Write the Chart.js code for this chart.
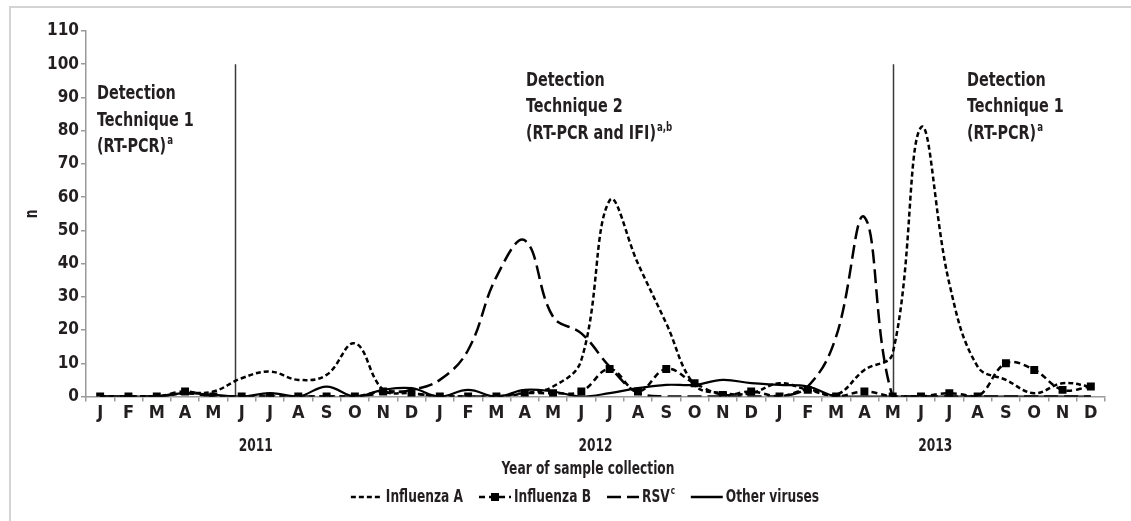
<!DOCTYPE html>
<html>
<head>
<meta charset="utf-8">
<script src="https://cdn.jsdelivr.net/npm/chart.js@4/dist/chart.umd.min.js"></script>
<style>
  html, body { margin: 0; padding: 0; background: #fff; }
  #wrap { position: relative; width: 1131px; height: 521px; }
</style>
</head>
<body>
<div id="wrap"><canvas id="c" width="1131" height="521"></canvas></div>
<script>
const FONT = '"DejaVu Sans Condensed", "Liberation Sans Narrow", sans-serif';
const TEXT = '#231f20';
const SX = 0.8; // horizontal compression for custom text

const months = ['J','F','M','A','M','J','J','A','S','O','N','D',
                'J','F','M','A','M','J','J','A','S','O','N','D',
                'J','F','M','A','M','J','J','A','S','O','N','D'];
const years = ['2011', '2012', '2013'];

const influenzaA = [0,0,0,1,1.5,5.5,7.5,5,6.5,16,2,1,
                    0,0,0,1,3,11,59,40,22,3.5,1,1,
                    4,2,0.5,8,13,81,34,9,5,1,4,3];
const influenzaB = [0,0,0,1.5,0,0,0,0,0,0,1.5,1,
                    0,0,0,1,1,1.5,8.3,1.5,8.3,4,0.5,1.5,
                    0,2,0,1.5,0,0,1,0,10,8,2,3];
const rsv        = [0,0,0,1,0,0,0,0,0,0,1,2,
                    5,14,36,47,24,19,9,1,0,0,0,0,
                    0,3,18,54,0,0,0,0,0,0,0,0];
const otherViruses = [0,0,0,1,0.5,0,1,0,3,0,2,2.5,
                      0,2,0,2,1.5,0,1,2.5,3.5,3.5,5,4,
                      3.5,3,0,0,0,0,0,0,0,0,0,0];

// positions (in month index units) of the technique change lines
const techniqueBreaks = [4.78, 28];
const breakTop = 100;

const labelsTech = [
  { x: 97,  lines: [[['Detection', false]], [['Technique 1', false]], [['(RT-PCR)', false], ['a', true]]], base: [99, 126, 152] },
  { x: 526, lines: [[['Detection', false]], [['Technique 2', false]], [['(RT-PCR and IFI)', false], ['a,b', true]]], base: [86, 112, 139] },
  { x: 967, lines: [[['Detection', false]], [['Technique 1', false]], [['(RT-PCR)', false], ['a', true]]], base: [86, 112, 139] }
];

function richWidth(ctx, parts, size) {
  let w = 0;
  parts.forEach(([t, sup]) => {
    ctx.font = 'bold ' + (sup ? Math.round(size * 0.6) : size) + 'px ' + FONT;
    w += (ctx.measureText(t).width + (sup ? 1 : 0)) * SX;
  });
  return w;
}

function drawRich(ctx, parts, x, y, size) {
  let cx = x;
  parts.forEach(([t, sup]) => {
    ctx.font = 'bold ' + (sup ? Math.round(size * 0.6) : size) + 'px ' + FONT;
    const yy = sup ? y - size * 0.38 : y;
    const xx = sup ? cx + 1 : cx;
    ctx.save();
    ctx.translate(xx, yy);
    ctx.scale(SX, 1);
    ctx.textAlign = 'left';
    ctx.fillText(t, 0, 0);
    ctx.restore();
    cx += (ctx.measureText(t).width + (sup ? 1 : 0)) * SX;
  });
  return cx - x;
}

function drawCentered(ctx, text, cx, y, size) {
  ctx.font = 'bold ' + size + 'px ' + FONT;
  ctx.save();
  ctx.translate(cx, y);
  ctx.scale(SX, 1);
  ctx.textAlign = 'center';
  ctx.fillText(text, 0, 0);
  ctx.restore();
}

const decor = {
  id: 'decor',
  beforeDraw(chart) {
    const ctx = chart.ctx;
    ctx.save();
    ctx.strokeStyle = '#d4d4d4';
    ctx.lineWidth = 2;
    ctx.beginPath();
    ctx.moveTo(10, 521);
    ctx.lineTo(10, 7);
    ctx.lineTo(1131, 7);
    ctx.stroke();
    ctx.restore();
  },
  beforeDatasetsDraw(chart) {
    const ctx = chart.ctx, xs = chart.scales.x, ys = chart.scales.y;
    ctx.save();
    ctx.strokeStyle = '#3a3a3a';
    ctx.lineWidth = 1.5;
    techniqueBreaks.forEach(v => {
      const px = Math.round(xs.getPixelForValue(v)) + 0.5;
      ctx.beginPath();
      ctx.moveTo(px, ys.getPixelForValue(breakTop));
      ctx.lineTo(px, ys.getPixelForValue(0));
      ctx.stroke();
    });
    ctx.restore();
  },
  afterDraw(chart) {
    const ctx = chart.ctx, xs = chart.scales.x;
    ctx.save();
    ctx.fillStyle = TEXT;
    ctx.textBaseline = 'alphabetic';

    // technique annotations
    labelsTech.forEach(lab => {
      lab.lines.forEach((parts, j) => drawRich(ctx, parts, lab.x, lab.base[j], 20));
    });

    // years
    ctx.textBaseline = 'middle';
    years.forEach((yr, i) => {
      const px = (xs.getPixelForValue(i * 12) + xs.getPixelForValue(i * 12 + 11)) / 2;
      drawCentered(ctx, yr, px, 447, 17);
    });

    // axis titles
    drawCentered(ctx, 'Year of sample collection', 588, 470, 17);
    ctx.save();
    ctx.translate(33, 214);
    ctx.rotate(-Math.PI / 2);
    drawCentered(ctx, 'n', 0, 0, 17);
    ctx.restore();

    // legend
    const items = [
      { label: [['Influenza A', false]], dash: [5, 3], marker: false },
      { label: [['Influenza B', false]], dash: [6, 4], marker: true },
      { label: [['RSV', false], ['c', true]], dash: [14, 6], marker: false },
      { label: [['Other viruses', false]], dash: [], marker: false }
    ];
    const sampleW = 32, gapS = 3, gapI = 16, size = 17;
    const widths = items.map(it => richWidth(ctx, it.label, size));
    const total = widths.reduce((a, b) => a + b, 0) + items.length * (sampleW + gapS) + (items.length - 1) * gapI;
    let lx = 585 - total / 2;
    const ly = 497;
    items.forEach((it, i) => {
      ctx.save();
      ctx.strokeStyle = '#000';
      ctx.lineWidth = 2.5;
      ctx.setLineDash(it.dash);
      ctx.beginPath();
      ctx.moveTo(lx, ly);
      ctx.lineTo(lx + sampleW, ly);
      ctx.stroke();
      if (it.marker) {
        ctx.setLineDash([]);
        ctx.fillStyle = '#000';
        ctx.fillRect(lx + sampleW / 2 - 4, ly - 4, 8, 8);
      }
      ctx.restore();
      lx += sampleW + gapS;
      ctx.fillStyle = TEXT;
      drawRich(ctx, it.label, lx, ly + 1, size);
      lx += widths[i] + gapI;
    });
    ctx.restore();
  }
};

const common = { borderColor: '#000', backgroundColor: '#000', tension: 0.4, fill: false };

new Chart(document.getElementById('c'), {
  type: 'line',
  data: {
    labels: months,
    datasets: [
      Object.assign({ label: 'Influenza A', data: influenzaA, borderWidth: 2.5, borderDash: [5, 3], pointRadius: 0 }, common),
      Object.assign({ label: 'Influenza B', data: influenzaB, borderWidth: 2.5, borderDash: [6, 4], pointRadius: 5.6, pointStyle: 'rect', pointBorderWidth: 0 }, common),
      Object.assign({ label: 'RSV', data: rsv, borderWidth: 2.5, borderDash: [14, 6], pointRadius: 0 }, common),
      Object.assign({ label: 'Other viruses', data: otherViruses, borderWidth: 2.2, pointRadius: 0 }, common)
    ]
  },
  options: {
    responsive: false,
    animation: false,
    devicePixelRatio: 1,
    layout: { padding: { left: 10, right: 26, top: 31, bottom: 0 } },
    plugins: { legend: { display: false }, tooltip: { enabled: false } },
    scales: {
      x: {
        type: 'category',
        offset: true,
        grid: { display: true, offset: true, drawOnChartArea: false, tickLength: 5, color: '#9a9a9a', lineWidth: 1.5 },
        border: { color: '#9a9a9a', width: 1.5 },
        ticks: { color: TEXT, font: { family: FONT, size: 18, weight: 'bold' }, padding: 1, maxRotation: 0, autoSkip: false },
        afterFit(scale) { scale.height = 124.5; }
      },
      y: {
        min: 0, max: 110,
        grid: { display: true, drawOnChartArea: false, tickLength: 5, color: '#9a9a9a', lineWidth: 1.5 },
        border: { color: '#9a9a9a', width: 1.5 },
        ticks: { stepSize: 10, color: TEXT, font: { family: FONT, size: 17, weight: 'bold' }, padding: 2 },
        afterFit(scale) { scale.width = 76; }
      }
    }
  },
  plugins: [decor]
});
</script>
</body>
</html>
